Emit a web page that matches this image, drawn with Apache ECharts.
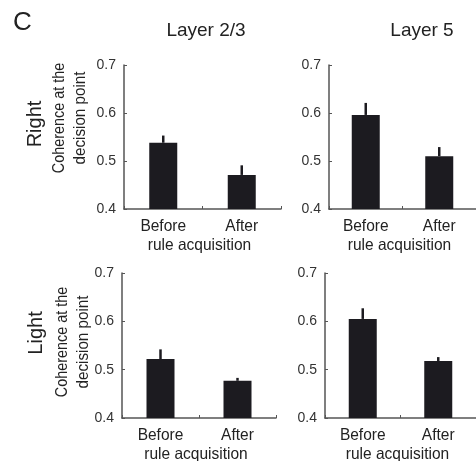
<!DOCTYPE html>
<html>
<head>
<meta charset="utf-8">
<script src="https://cdn.jsdelivr.net/npm/echarts@6/dist/echarts.min.js"></script>
<style>html,body{margin:0;padding:0;background:#fff;}#c{width:476px;height:461px;}</style>
</head>
<body>
<div id="c"></div>
<script>
const categories = ['Before', 'After'];
const yTicks = [0.4, 0.5, 0.6, 0.7];
const panelTitles = ['Layer 2/3', 'Layer 5'];
const rowLabels = ['Right', 'Light'];
const yAxisTitleLines = ['Coherence at the', 'decision point'];
const xAxisTitle = 'rule acquisition';

const rightL23Mean = [0.538, 0.471];
const rightL23Err = [0.015, 0.020];
const rightL5Mean = [0.596, 0.510];
const rightL5Err = [0.025, 0.019];
const lightL23Mean = [0.522, 0.477];
const lightL23Err = [0.020, 0.006];
const lightL5Mean = [0.605, 0.518];
const lightL5Err = [0.022, 0.008];

const FONT = 'Liberation Sans, Arial, sans-serif';
const TXT = '#222';
const AX = '#555';
const XL_FONT = 16.5, XL_SX = 0.94;

const panels = [
  {mean: rightL23Mean, err: rightL23Err, grid: {left: 124, top: 65, width: 157, height: 144}},
  {mean: rightL5Mean, err: rightL5Err, grid: {left: 329, top: 65, width: 156, height: 144}},
  {mean: lightL23Mean, err: lightL23Err, grid: {left: 122, top: 273, width: 154, height: 145}},
  {mean: lightL5Mean, err: lightL5Err, grid: {left: 325, top: 273, width: 154, height: 145}}
];

function xText(txt, x, y) {
  return {type: 'text', x: x, y: y, scaleX: XL_SX, scaleY: 1,
          style: {text: txt, font: XL_FONT + 'px ' + FONT, fill: TXT, align: 'center', verticalAlign: 'middle'}};
}

const grids = [], xAxes = [], yAxes = [], series = [];
panels.forEach((p, i) => {
  grids.push(Object.assign({containLabel: false}, p.grid));
  xAxes.push({
    type: 'category', gridIndex: i, data: categories,
    axisLine: {lineStyle: {color: AX, width: 1.5}},
    axisTick: {show: true, inside: true, length: 3, lineStyle: {color: AX}},
    axisLabel: {show: false}
  });
  yAxes.push({
    type: 'value', gridIndex: i, min: yTicks[0], max: yTicks[yTicks.length - 1], interval: 0.1,
    axisLine: {show: true, lineStyle: {color: AX, width: 1.5}},
    axisTick: {show: true, inside: true, length: 3, lineStyle: {color: AX}},
    splitLine: {show: false},
    axisLabel: {color: '#333', fontFamily: FONT, fontSize: 14, margin: 8, formatter: v => v.toFixed(1)}
  });
  series.push({
    type: 'bar', xAxisIndex: i, yAxisIndex: i, data: p.mean, barWidth: 28,
    itemStyle: {color: '#1c1b20'}, silent: true, z: 2
  });
  series.push({
    type: 'custom', xAxisIndex: i, yAxisIndex: i, silent: true, z: 3,
    data: p.mean.map((m, k) => [k, m, p.err[k]]),
    renderItem: function (params, api) {
      const base = api.coord([api.value(0), api.value(1)]);
      const top = api.coord([api.value(0), api.value(1) + api.value(2)]);
      return {type: 'line', shape: {x1: base[0], y1: base[1], x2: top[0], y2: top[1]},
              style: {stroke: '#1c1b20', lineWidth: 2.5}};
    }
  });
  // category labels and axis name, positioned through the axis scale
  series.push({
    type: 'custom', xAxisIndex: i, yAxisIndex: i, silent: true, z: 4, clip: false,
    data: categories.map((c, k) => [k, yTicks[0]]),
    renderItem: function (params, api) {
      const k = api.value(0);
      const pt = api.coord([k, api.value(1)]);
      const children = [xText(categories[k], pt[0], pt[1] + 17)];
      if (k === 0) {
        const cs = params.coordSys;
        children.push(xText(xAxisTitle, cs.x + cs.width / 2 - 3, pt[1] + 36));
      }
      return {type: 'group', children: children};
    }
  });
});

function vText(txt, x, y, size, sx) {
  return {type: 'text', x: x, y: y, rotation: Math.PI / 2, scaleX: sx, scaleY: 1,
          style: {text: txt, font: size + 'px ' + FONT, fill: TXT, textAlign: 'center', textVerticalAlign: 'middle'}};
}

const graphic = [
  {type: 'text', left: 13, top: 10, style: {text: 'C', font: '26px ' + FONT, fill: TXT}},
  {type: 'text', x: 206, y: 31, style: {text: panelTitles[0], font: '19px ' + FONT, fill: TXT, textAlign: 'center', textVerticalAlign: 'middle'}},
  {type: 'text', x: 422, y: 31, style: {text: panelTitles[1], font: '19px ' + FONT, fill: TXT, textAlign: 'center', textVerticalAlign: 'middle'}},
  vText(rowLabels[0], 35, 124, 20, 1),
  vText(rowLabels[1], 36, 333, 20, 1),
  vText(yAxisTitleLines[0], 60, 118, 16, 0.9),
  vText(yAxisTitleLines[1], 81, 118, 16, 0.95),
  vText(yAxisTitleLines[0], 63, 342, 16, 0.9),
  vText(yAxisTitleLines[1], 84, 342, 16, 0.95)
];

const chart = echarts.init(document.getElementById('c'), null, {renderer: 'canvas'});
chart.setOption({
  animation: false,
  backgroundColor: '#fff',
  grid: grids, xAxis: xAxes, yAxis: yAxes, series: series, graphic: graphic
});
</script>
</body>
</html>
